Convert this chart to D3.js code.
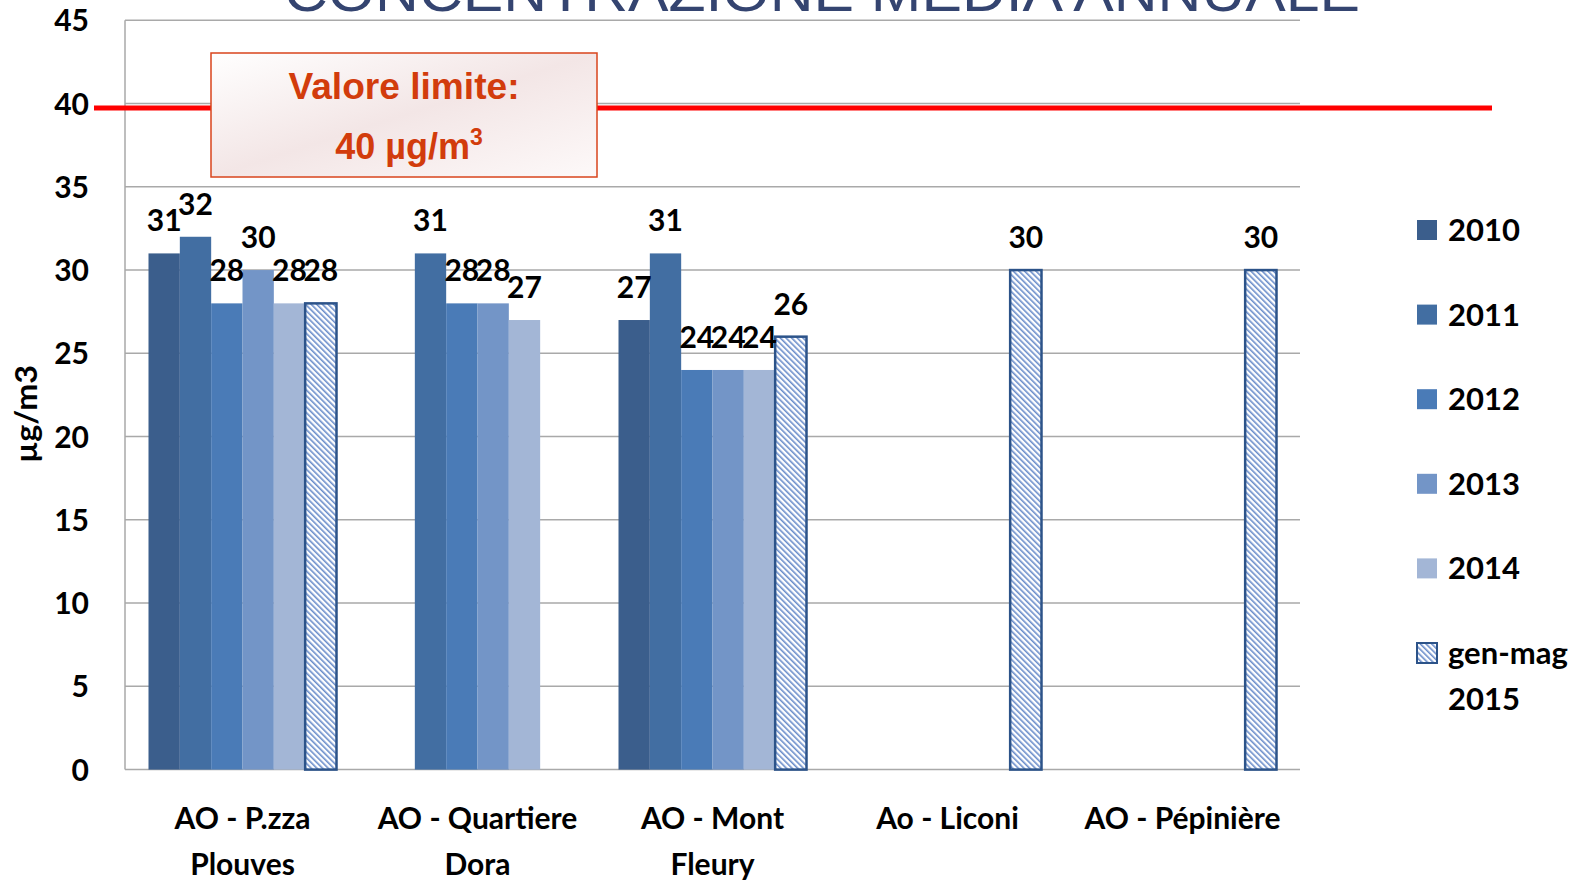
<!DOCTYPE html>
<html>
<head>
<meta charset="utf-8">
<script src="https://cdn.jsdelivr.net/npm/d3@7"></script>
<style>
  body { margin: 0; background: #fff; }
  svg { display: block; }
</style>
</head>
<body>
<div id="chart"></div>
<script>
const width = 1592;
const height = 881;

// data
const categories = ["AO - P.zza Plouves", "AO - Quartiere Dora", "AO - Mont Fleury", "Ao - Liconi", "AO - Pépinière"];
const categoryLines = [["AO - P.zza", "Plouves"], ["AO - Quartiere", "Dora"], ["AO - Mont", "Fleury"], ["Ao - Liconi"], ["AO - Pépinière"]];
const seriesNames = ["2010", "2011", "2012", "2013", "2014", "gen-mag 2015"];
const legendLines = [["2010"], ["2011"], ["2012"], ["2013"], ["2014"], ["gen-mag", "2015"]];
const v2010 = [31, null, 27, null, null];
const v2011 = [32, 31, 31, null, null];
const v2012 = [28, 28, 24, null, null];
const v2013 = [30, 28, 24, null, null];
const v2014 = [28, 27, 24, null, null];
const v2015 = [28, null, 26, 30, 30];
const yTicks = [0, 5, 10, 15, 20, 25, 30, 35, 40, 45];
const limitValue = 40;

const seriesValues = [v2010, v2011, v2012, v2013, v2014, v2015];
const colors = ["#3b5e8c", "#426ea2", "#4a7bb7", "#7395c7", "#a3b6d6", "url(#hatch)"];

const plot = { left: 125, right: 1300, top: 20.3, bottom: 769.6 };

const svg = d3.select("#chart")
    .append("svg")
    .attr("width", width)
    .attr("height", height);

const defs = svg.append("defs");
const hatch = defs.append("pattern")
    .attr("id", "hatch")
    .attr("patternUnits", "userSpaceOnUse")
    .attr("width", 4)
    .attr("height", 4)
    .attr("patternTransform", "rotate(-45)");
hatch.append("rect").attr("width", 4).attr("height", 4).attr("fill", "#ffffff");
hatch.append("rect").attr("width", 1.6).attr("height", 4).attr("fill", "#6a8dca");

const grad = defs.append("linearGradient")
    .attr("id", "boxfill")
    .attr("x1", "0%").attr("y1", "0%").attr("x2", "100%").attr("y2", "100%");
grad.append("stop").attr("offset", "0%").attr("stop-color", "#ffffff");
grad.append("stop").attr("offset", "50%").attr("stop-color", "#f3e6e6");
grad.append("stop").attr("offset", "100%").attr("stop-color", "#fdf9f9");

const y = d3.scaleLinear()
    .domain([0, 45])
    .range([plot.bottom, plot.top]);

const x0 = d3.scaleBand()
    .domain(categories)
    .range([plot.left, plot.right])
    .paddingInner(0.2)
    .paddingOuter(0.1);

const x1 = d3.scaleBand()
    .domain(seriesNames)
    .range([0, x0.bandwidth()]);

const labelFont = "Lato, 'Open Sans', sans-serif";

// gridlines
svg.append("g")
    .selectAll("line")
    .data(yTicks)
    .enter().append("line")
    .attr("x1", plot.left)
    .attr("x2", plot.right)
    .attr("y1", d => y(d))
    .attr("y2", d => y(d))
    .attr("stroke", "#a9a9a9")
    .attr("stroke-width", 1.5);

svg.append("line")
    .attr("x1", plot.left)
    .attr("x2", plot.left)
    .attr("y1", y(45))
    .attr("y2", y(0))
    .attr("stroke", "#a9a9a9")
    .attr("stroke-width", 1.5);

// y tick labels
svg.append("g")
    .selectAll("text")
    .data(yTicks)
    .enter().append("text")
    .attr("x", 89)
    .attr("y", d => y(d) + 11)
    .attr("text-anchor", "end")
    .attr("font-family", labelFont)
    .attr("font-weight", "bold")
    .attr("font-size", "30px")
    .attr("fill", "#000")
    .text(d => d);

// y axis title
svg.append("text")
    .attr("transform", `translate(37, 414) rotate(-90)`)
    .attr("text-anchor", "middle")
    .attr("font-family", labelFont)
    .attr("font-weight", "bold")
    .attr("font-size", "31px")
    .attr("fill", "#000")
    .attr("textLength", 98)
    .attr("lengthAdjust", "spacingAndGlyphs")
    .text("µg/m3");

// bars
const flat = [];
seriesNames.forEach((s, si) => {
    categories.forEach((c, ci) => {
        const v = seriesValues[si][ci];
        if (v != null) flat.push({ series: s, si: si, category: c, value: v });
    });
});

svg.append("g")
    .selectAll("rect")
    .data(flat)
    .enter().append("rect")
    .attr("x", d => x0(d.category) + x1(d.series))
    .attr("y", d => y(d.value))
    .attr("width", x1.bandwidth())
    .attr("height", d => y(0) - y(d.value))
    .attr("fill", d => colors[d.si])
    .attr("stroke", d => d.si === 5 ? "#2c5389" : "none")
    .attr("stroke-width", 2.5);

// value labels
svg.append("g")
    .selectAll("text")
    .data(flat)
    .enter().append("text")
    .attr("x", d => x0(d.category) + x1(d.series) + x1.bandwidth() / 2)
    .attr("y", d => y(d.value) - 22)
    .attr("text-anchor", "middle")
    .attr("font-family", labelFont)
    .attr("font-weight", "bold")
    .attr("font-size", "30px")
    .attr("fill", "#000")
    .text(d => d.value);

// category labels
const catG = svg.append("g")
    .selectAll("text")
    .data(categories)
    .enter().append("text")
    .attr("text-anchor", "middle")
    .attr("font-family", labelFont)
    .attr("font-weight", "bold")
    .attr("font-size", "30px")
    .attr("fill", "#000");
catG.each(function(c, i) {
    const t = d3.select(this);
    categoryLines[i].forEach((line, li) => {
        t.append("tspan")
            .attr("x", x0(c) + x0.bandwidth() / 2)
            .attr("y", 829 + li * 46)
            .text(line);
    });
});

// limit line
svg.append("line")
    .attr("x1", 94)
    .attr("x2", 1492)
    .attr("y1", y(limitValue) + 4.5)
    .attr("y2", y(limitValue) + 4.5)
    .attr("stroke", "#ff0000")
    .attr("stroke-width", 5);

// limit annotation box
svg.append("rect")
    .attr("x", 211)
    .attr("y", 53)
    .attr("width", 386)
    .attr("height", 124)
    .attr("fill", "url(#boxfill)")
    .attr("stroke", "#d9441c")
    .attr("stroke-width", 1.5);

svg.append("text")
    .attr("x", 404)
    .attr("y", 99)
    .attr("text-anchor", "middle")
    .attr("font-family", "'Liberation Sans', Arial, sans-serif")
    .attr("font-weight", "bold")
    .attr("font-size", "36px")
    .attr("fill", "#d23c0c")
    .attr("textLength", 231)
    .attr("lengthAdjust", "spacingAndGlyphs")
    .text("Valore limite:");

const t2 = svg.append("text")
    .attr("x", 409)
    .attr("y", 159)
    .attr("text-anchor", "middle")
    .attr("font-family", "'Liberation Sans', Arial, sans-serif")
    .attr("font-weight", "bold")
    .attr("font-size", "36px")
    .attr("fill", "#d23c0c");
t2.append("tspan").text(limitValue + " µg/m");
t2.append("tspan").attr("dy", -14).attr("font-size", "23px").text("3");

// legend
const legend = svg.append("g")
    .selectAll("g")
    .data(seriesNames)
    .enter().append("g")
    .attr("transform", (d, i) => `translate(1417, ${230 + i * 84.6})`);

legend.append("rect")
    .attr("x", 0)
    .attr("y", -10)
    .attr("width", 20)
    .attr("height", 20)
    .attr("fill", (d, i) => colors[i])
    .attr("stroke", (d, i) => i === 5 ? "#2c5389" : "none")
    .attr("stroke-width", 2);

legend.append("text")
    .attr("font-family", labelFont)
    .attr("font-weight", "bold")
    .attr("font-size", "31px")
    .attr("fill", "#000")
    .each(function(d, i) {
        const t = d3.select(this);
        legendLines[i].forEach((line, li) => {
            t.append("tspan")
                .attr("x", 31)
                .attr("y", 11 + li * 46)
                .text(line);
        });
    });

// title (cut off at top)
svg.append("text")
    .attr("x", 822)
    .attr("y", 11)
    .attr("text-anchor", "middle")
    .attr("font-family", "'Liberation Sans', Arial, sans-serif")
    .attr("font-size", "56px")
    .attr("fill", "#344470")
    .attr("textLength", 1076)
    .attr("lengthAdjust", "spacingAndGlyphs")
    .text("CONCENTRAZIONE MEDIA ANNUALE");
</script>
</body>
</html>
